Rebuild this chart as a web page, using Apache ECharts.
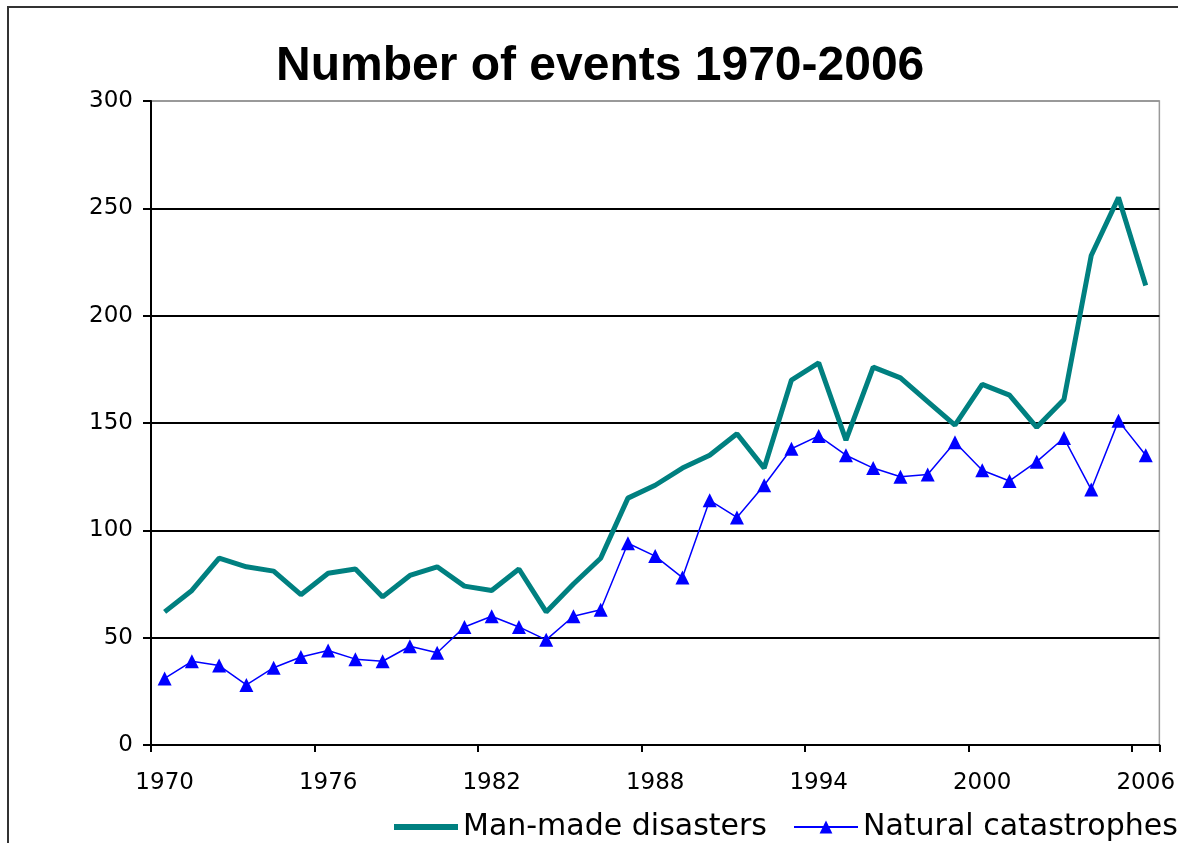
<!DOCTYPE html>
<html>
<head>
<meta charset="utf-8">
<script src="https://cdn.jsdelivr.net/npm/echarts@6/dist/echarts.min.js"></script>
<style>html,body{margin:0;padding:0;background:#fff;}#c{width:1178px;height:843px;}</style>
</head>
<body>
<div id="c"></div>
<script>
var years = ['1970','1971','1972','1973','1974','1975','1976','1977','1978','1979','1980','1981','1982','1983','1984','1985','1986','1987','1988','1989','1990','1991','1992','1993','1994','1995','1996','1997','1998','1999','2000','2001','2002','2003','2004','2005','2006'];
var manMade = [62,72,87,83,81,70,80,82,69,79,83,74,72,82,62,75,87,115,121,129,135,145,129,170,178,142,176,171,160,149,168,163,148,161,228,255,214];
var natural = [31,39,37,28,36,41,44,40,39,46,43,55,60,55,49,60,63,94,88,78,114,106,121,138,144,135,129,125,126,141,128,123,132,143,119,151,135];
var yTicks = [0,50,100,150,200,250,300];
var titleText = 'Number of events 1970-2006';
var seriesNames = ['Man-made disasters','Natural catastrophes'];

var chart = echarts.init(document.getElementById('c'), null, {renderer:'canvas'});
var labelFont = 'DejaVu Sans';
var legendCommon = {
  top: 812, itemWidth: 64, itemHeight: 16, width: 600, padding: 0,
  textStyle: {fontFamily: labelFont, fontSize: 30, color:'#000'}
};
chart.setOption({
  backgroundColor: '#fff',
  animation: false,
  title: {
    text: titleText,
    left: 271,
    top: 38,
    textStyle: {fontFamily:'Liberation Sans', fontWeight:'bold', fontSize:48, color:'#000'}
  },
  graphic: [{
    type:'rect', shape:{x:8, y:7, width:1300, height:1000},
    style:{fill:'none', stroke:'#333', lineWidth:2}, silent:true, z:-1
  }],
  legend: [
    Object.assign({left: 391, data: [{name: seriesNames[0], lineStyle:{width:6, color:'#008080'}}]}, legendCommon),
    Object.assign({left: 793, data: [{name: seriesNames[1], lineStyle:{width:2, color:'#0000ff'}}]}, legendCommon)
  ],
  grid: {left:151, right:18, top:101, bottom:98, show:true, borderColor:'#999', borderWidth:1.5, backgroundColor:'transparent'},
  xAxis: {
    type:'category', data: years, boundaryGap:true,
    axisLine:{show:true, lineStyle:{color:'#000', width:2}},
    axisTick:{show:true, interval:5, length:7, lineStyle:{color:'#000', width:2}},
    axisLabel:{interval:5, margin:27, fontFamily:labelFont, fontSize:23, color:'#000'},
    splitLine:{show:false}
  },
  yAxis: {
    type:'value', min:0, max:300, interval:50,
    axisLine:{show:true, lineStyle:{color:'#000', width:2}},
    axisTick:{show:true, length:8, lineStyle:{color:'#000', width:2}},
    axisLabel:{margin:18, fontFamily:labelFont, fontSize:23, color:'#000'},
    splitLine:{show:true, lineStyle:{color:['#000','#000','#000','#000','#000','#000','#999'], width:2}}
  },
  series: [
    {name:seriesNames[0], type:'line', data:manMade, symbol:'line', showSymbol:false, lineStyle:{color:'#008080', width:5}, itemStyle:{color:'#008080'}, z:3},
    {name:seriesNames[1], type:'line', data:natural, symbol:'triangle', symbolSize:14, lineStyle:{color:'#0000ff', width:1.5}, itemStyle:{color:'#0000ff'}, z:4}
  ]
});
</script>
</body>
</html>
